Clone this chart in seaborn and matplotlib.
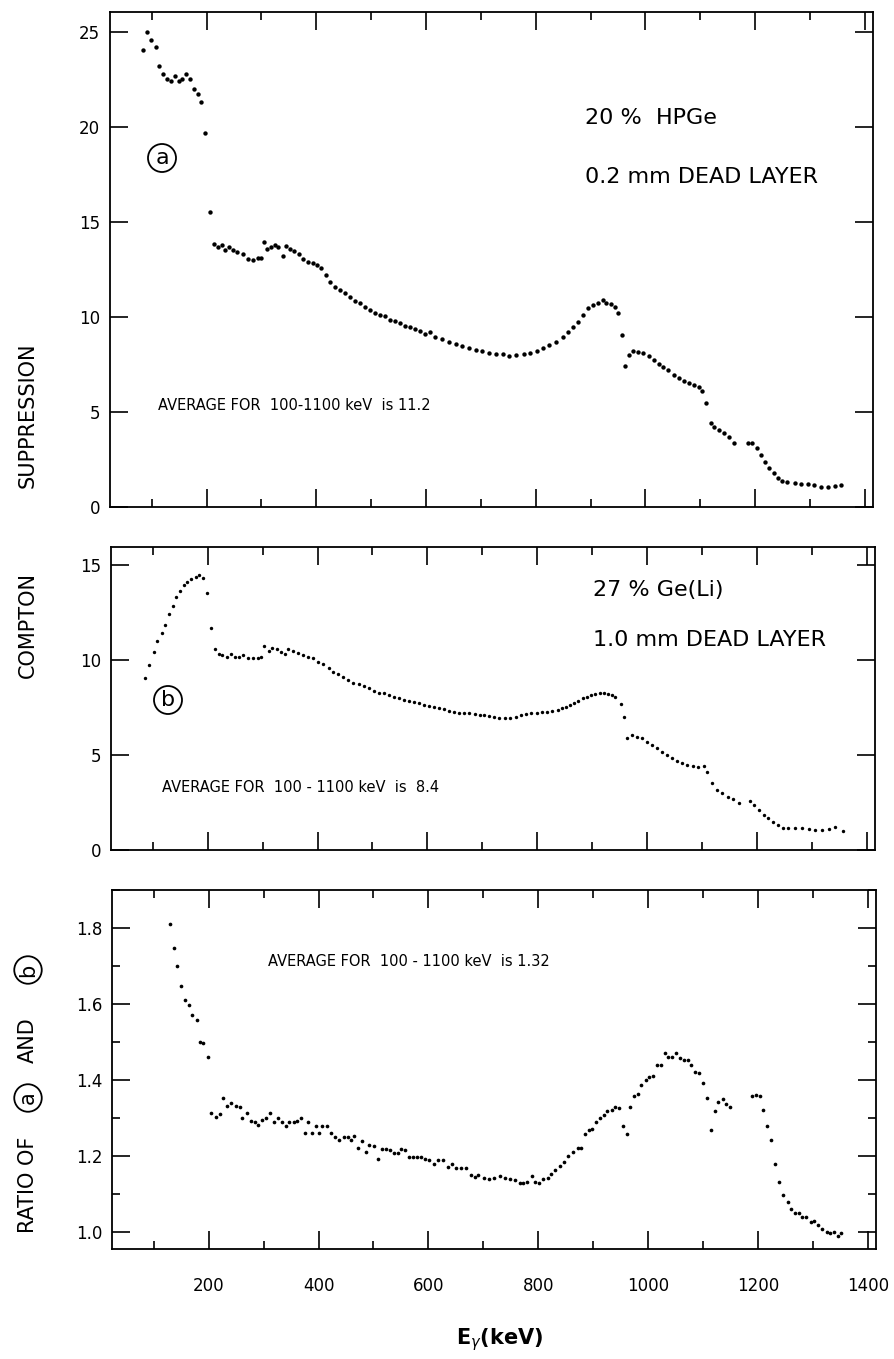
import numpy as np
import matplotlib
matplotlib.use("Agg")
import matplotlib.pyplot as plt
from matplotlib.ticker import FormatStrFormatter, MultipleLocator
import seaborn as sns

# (a) 20% HPGe, 0.2 mm dead layer - compton suppression factor
energy_a = [84, 92, 99, 107, 114, 121, 128, 135, 142, 149,
            156, 163, 169, 178, 184, 190, 198, 206, 214, 221,
            229, 234, 241, 248, 256, 266, 275, 284, 293, 299,
            304, 310, 318, 324, 330, 339, 345, 353, 360, 368,
            376, 385, 394, 402, 409, 417, 425, 434, 443, 452,
            461, 470, 480, 489, 498, 507, 516, 525, 535, 544,
            553, 562, 571, 580, 590, 599, 608, 617, 629, 642,
            654, 666, 678, 691, 703, 715, 727, 740, 752, 765,
            778, 790, 802, 813, 825, 837, 850, 859, 868, 877,
            886, 896, 905, 914, 922, 929, 938, 944, 950, 957,
            963, 971, 978, 987, 996, 1006, 1015, 1024, 1033, 1042,
            1052, 1061, 1070, 1079, 1088, 1097, 1103, 1111, 1119, 1126,
            1134, 1143, 1152, 1162, 1187, 1195, 1203, 1210, 1218, 1226,
            1234, 1241, 1250, 1259, 1272, 1284, 1296, 1308, 1320, 1333,
            1345, 1357]
supp_a = [24.05, 25.0, 24.6, 24.2, 23.2, 22.8, 22.55, 22.4, 22.7, 22.4,
          22.55, 22.8, 22.5, 22.0, 21.75, 21.3, 19.7, 15.5, 13.84, 13.67,
          13.79, 13.53, 13.67, 13.53, 13.4, 13.3, 13.04, 13.0, 13.1, 13.1,
          13.93, 13.6, 13.67, 13.79, 13.67, 13.23, 13.74, 13.6, 13.49, 13.3,
          13.04, 12.9, 12.86, 12.74, 12.56, 12.2, 11.86, 11.6, 11.42, 11.25,
          11.07, 10.86, 10.75, 10.54, 10.37, 10.19, 10.1, 10.05, 9.84, 9.8,
          9.67, 9.53, 9.46, 9.35, 9.28, 9.1, 9.23, 8.96, 8.82, 8.7,
          8.58, 8.47, 8.35, 8.26, 8.23, 8.12, 8.05, 8.05, 7.95, 7.98,
          8.05, 8.1, 8.2, 8.35, 8.53, 8.7, 8.96, 9.23, 9.49, 9.75,
          10.1, 10.46, 10.63, 10.72, 10.9, 10.75, 10.68, 10.54, 10.23, 9.05,
          7.42, 8.0, 8.23, 8.18, 8.09, 7.95, 7.74, 7.53, 7.39, 7.21,
          6.95, 6.77, 6.65, 6.51, 6.42, 6.33, 6.12, 5.49, 4.4, 4.23,
          4.05, 3.88, 3.67, 3.39, 3.35, 3.35, 3.09, 2.74, 2.39, 2.04,
          1.77, 1.51, 1.39, 1.3, 1.25, 1.21, 1.21, 1.16, 1.07, 1.07,
          1.1, 1.16]

# (b) 27% Ge(Li), 1.0 mm dead layer
energy_b = [85, 94, 102, 108, 116, 122, 130, 136, 143, 149,
            157, 163, 170, 178, 185, 192, 198, 206, 213, 220,
            227, 235, 242, 250, 257, 265, 273, 282, 291, 298,
            303, 312, 318, 326, 334, 340, 346, 355, 365, 374,
            383, 392, 401, 410, 420, 429, 438, 447, 456, 465,
            475, 484, 493, 502, 512, 521, 530, 539, 548, 557,
            567, 576, 585, 594, 603, 612, 621, 631, 640, 649,
            658, 667, 676, 686, 695, 704, 713, 722, 731, 741,
            750, 762, 771, 780, 789, 799, 808, 817, 827, 837,
            845, 852, 860, 867, 875, 883, 890, 898, 906, 914,
            922, 929, 936, 941, 952, 958, 964, 973, 982, 991,
            1000, 1009, 1018, 1028, 1037, 1046, 1055, 1064, 1073, 1083,
            1092, 1103, 1110, 1119, 1128, 1137, 1147, 1156, 1167, 1187,
            1195, 1204, 1212, 1221, 1230, 1239, 1248, 1257, 1270, 1282,
            1294, 1306, 1319, 1331, 1342, 1356]
supp_b = [9.04, 9.74, 10.4, 11.0, 11.44, 11.82, 12.4, 12.84, 13.33, 13.65,
          13.95, 14.12, 14.26, 14.35, 14.47, 14.3, 13.51, 11.67, 10.56, 10.32,
          10.26, 10.18, 10.32, 10.18, 10.14, 10.26, 10.09, 10.09, 10.12, 10.14,
          10.74, 10.49, 10.61, 10.56, 10.44, 10.32, 10.56, 10.49, 10.35, 10.26,
          10.18, 10.09, 9.91, 9.79, 9.56, 9.39, 9.26, 9.12, 8.95, 8.81,
          8.72, 8.63, 8.51, 8.38, 8.28, 8.25, 8.16, 8.07, 7.98, 7.89,
          7.84, 7.81, 7.72, 7.65, 7.58, 7.54, 7.46, 7.4, 7.32, 7.28,
          7.23, 7.19, 7.19, 7.16, 7.11, 7.11, 7.05, 6.98, 6.93, 6.93,
          6.93, 7.02, 7.1, 7.16, 7.2, 7.23, 7.25, 7.28, 7.32, 7.37,
          7.45, 7.54, 7.65, 7.75, 7.86, 7.98, 8.07, 8.16, 8.22, 8.25,
          8.25, 8.21, 8.15, 8.07, 7.68, 7.02, 5.88, 6.05, 5.96, 5.88,
          5.7, 5.53, 5.35, 5.17, 5.0, 4.82, 4.68, 4.56, 4.47, 4.42,
          4.39, 4.42, 4.12, 3.51, 3.16, 2.98, 2.81, 2.67, 2.49, 2.6,
          2.37, 2.1, 1.84, 1.67, 1.49, 1.32, 1.17, 1.14, 1.17, 1.17,
          1.09, 1.05, 1.05, 1.09, 1.2, 1.0]

# ratio of (a) and (b)
energy_c = [129, 137, 142, 150, 156, 164, 170, 179, 184, 190,
            199, 205, 213, 220, 227, 233, 241, 249, 257, 261,
            269, 277, 284, 290, 297, 304, 311, 319, 326, 334,
            341, 347, 355, 361, 368, 375, 381, 389, 395, 401,
            407, 415, 423, 430, 438, 446, 453, 460, 465, 471,
            480, 486, 492, 501, 508, 515, 523, 531, 538, 544,
            550, 558, 564, 572, 580, 587, 594, 602, 611, 618,
            626, 636, 643, 651, 660, 669, 677, 684, 691, 701,
            710, 720, 730, 739, 748, 757, 766, 772, 780, 788,
            794, 801, 809, 817, 824, 831, 839, 847, 855, 864,
            872, 878, 885, 892, 898, 905, 912, 920, 926, 934,
            940, 947, 954, 961, 967, 974, 981, 988, 996, 1002,
            1009, 1016, 1023, 1030, 1037, 1044, 1051, 1058, 1066, 1072,
            1078, 1086, 1093, 1100, 1107, 1114, 1121, 1127, 1136, 1142,
            1150, 1189, 1196, 1204, 1210, 1217, 1224, 1231, 1239, 1246,
            1254, 1260, 1267, 1274, 1280, 1288, 1296, 1303, 1309, 1317,
            1325, 1332, 1339, 1346, 1352]
ratio_c = [1.81, 1.748, 1.70, 1.648, 1.61, 1.597, 1.57, 1.558, 1.5, 1.497,
           1.46, 1.312, 1.302, 1.31, 1.352, 1.332, 1.34, 1.332, 1.33, 1.3,
           1.312, 1.292, 1.29, 1.282, 1.295, 1.3, 1.312, 1.29, 1.3, 1.29,
           1.279, 1.29, 1.29, 1.292, 1.3, 1.26, 1.289, 1.261, 1.279, 1.261,
           1.279, 1.279, 1.26, 1.249, 1.242, 1.249, 1.249, 1.242, 1.253, 1.22,
           1.24, 1.211, 1.229, 1.226, 1.191, 1.218, 1.218, 1.216, 1.207, 1.209,
           1.218, 1.216, 1.198, 1.198, 1.198, 1.197, 1.191, 1.189, 1.179, 1.189,
           1.188, 1.172, 1.179, 1.168, 1.168, 1.168, 1.15, 1.144, 1.15, 1.141,
           1.139, 1.141, 1.147, 1.141, 1.139, 1.137, 1.13, 1.13, 1.132, 1.146,
           1.132, 1.13, 1.139, 1.141, 1.153, 1.163, 1.174, 1.185, 1.2, 1.211,
           1.222, 1.222, 1.257, 1.268, 1.27, 1.288, 1.3, 1.308, 1.317, 1.321,
           1.33, 1.327, 1.28, 1.258, 1.328, 1.359, 1.362, 1.387, 1.4, 1.409,
           1.411, 1.439, 1.439, 1.47, 1.461, 1.461, 1.47, 1.457, 1.453, 1.453,
           1.439, 1.42, 1.419, 1.391, 1.352, 1.268, 1.317, 1.341, 1.349, 1.336,
           1.328, 1.358, 1.361, 1.359, 1.321, 1.28, 1.242, 1.178, 1.131, 1.097,
           1.078, 1.06, 1.049, 1.049, 1.039, 1.04, 1.027, 1.03, 1.018, 1.007,
           1.001, 0.998, 0.999, 0.99, 0.997]

x_major = [200, 400, 600, 800, 1000, 1200, 1400]
x_minor = [100, 300, 500, 700, 900, 1100, 1300]

W, H = 894, 1359
sns.set_style("ticks")
plt.rcParams["font.family"] = ["DejaVu Sans"]
plt.rcParams.update({"text.color": "black", "axes.edgecolor": "black",
                     "xtick.color": "black", "ytick.color": "black",
                     "axes.labelcolor": "black"})

fig = plt.figure(figsize=(W / 100, H / 100), dpi=100)


def box(l, t, r, b):
    # pixel box -> figure fraction rect
    return [l / W, 1 - b / H, (r - l) / W, (b - t) / H]


def pt(x, y):
    return x / W, 1 - y / H


panels = [
    (box(110, 12, 873, 507), energy_a, supp_a, (0, 26.05), [0, 5, 10, 15, 20, 25], "%d", 10),
    (box(111, 547, 875, 850), energy_b, supp_b, (0, 15.95), [0, 5, 10, 15], "%d", 6),
    (box(112, 890, 876, 1249), energy_c, ratio_c, (0.955, 1.90), [1.0, 1.2, 1.4, 1.6, 1.8], "%.1f", 7),
]

axes = []
for i, (rect, xs, ys, ylim, yt, fmt, size) in enumerate(panels):
    ax = fig.add_axes(rect)
    sns.scatterplot(x=xs, y=ys, ax=ax, color="black", s=size, linewidth=0, legend=False)
    ax.set_xlim(24, 1415)
    ax.set_ylim(*ylim)
    ax.set_xticks(x_major)
    ax.set_xticks(x_minor, minor=True)
    ax.set_yticks(yt)
    ax.yaxis.set_major_formatter(FormatStrFormatter(fmt))
    if i == 2:
        ax.yaxis.set_minor_locator(MultipleLocator(0.1))
    ax.tick_params(which="major", direction="in", top=True, right=True,
                   length=13, width=1.2, labelsize=12, pad=7)
    ax.tick_params(which="minor", direction="in", top=True, right=True,
                   length=6, width=1.2)
    ax.tick_params(axis="x", which="major", pad=20)
    if i < 2:
        ax.tick_params(axis="x", labelbottom=False)
    for sp in ax.spines.values():
        sp.set_linewidth(1.3)
    ax.set_xlabel("")
    ax.set_ylabel("")
    axes.append(ax)

# annotations
big = 16
fig.text(*pt(585, 118), "20 %  HPGe", fontsize=big, va="center", ha="left")
fig.text(*pt(585, 177), "0.2 mm DEAD LAYER", fontsize=big, va="center", ha="left")
fig.text(*pt(158, 405), "AVERAGE FOR  100-1100 keV  is 11.2", fontsize=10.5, va="center", ha="left")

fig.text(*pt(593, 590), "27 % Ge(Li)", fontsize=big, va="center", ha="left")
fig.text(*pt(593, 640), "1.0 mm DEAD LAYER", fontsize=big, va="center", ha="left")
fig.text(*pt(162, 788), "AVERAGE FOR  100 - 1100 keV  is  8.4", fontsize=10.5, va="center", ha="left")

fig.text(*pt(268, 962), "AVERAGE FOR  100 - 1100 keV  is 1.32", fontsize=10.5, va="center", ha="left")

circ = dict(boxstyle="circle,pad=0.18", fc="none", ec="black", lw=1.3)
fig.text(*pt(162, 158), "a", fontsize=16, ha="center", va="center", bbox=circ)
fig.text(*pt(168, 700), "b", fontsize=16, ha="center", va="center", bbox=circ)

# y-axis titles
lab = 15
fig.text(*pt(28, 415), "SUPPRESSION", fontsize=lab, rotation=90, ha="center", va="center")
fig.text(*pt(28, 625), "COMPTON", fontsize=lab, rotation=90, ha="center", va="center")
fig.text(*pt(28, 1185), "RATIO OF", fontsize=lab, rotation=90, ha="center", va="center")
fig.text(*pt(28, 1098), "a", fontsize=lab, rotation=90, ha="center", va="center", bbox=circ)
fig.text(*pt(28, 1040), "AND", fontsize=lab, rotation=90, ha="center", va="center")
fig.text(*pt(28, 970), "b", fontsize=lab, rotation=90, ha="center", va="center", bbox=circ)

fig.text(*pt(500, 1340), r"E$_\gamma$(keV)", fontsize=15, fontweight="bold", ha="center", va="center")

fig.savefig("out.png", dpi=100)
